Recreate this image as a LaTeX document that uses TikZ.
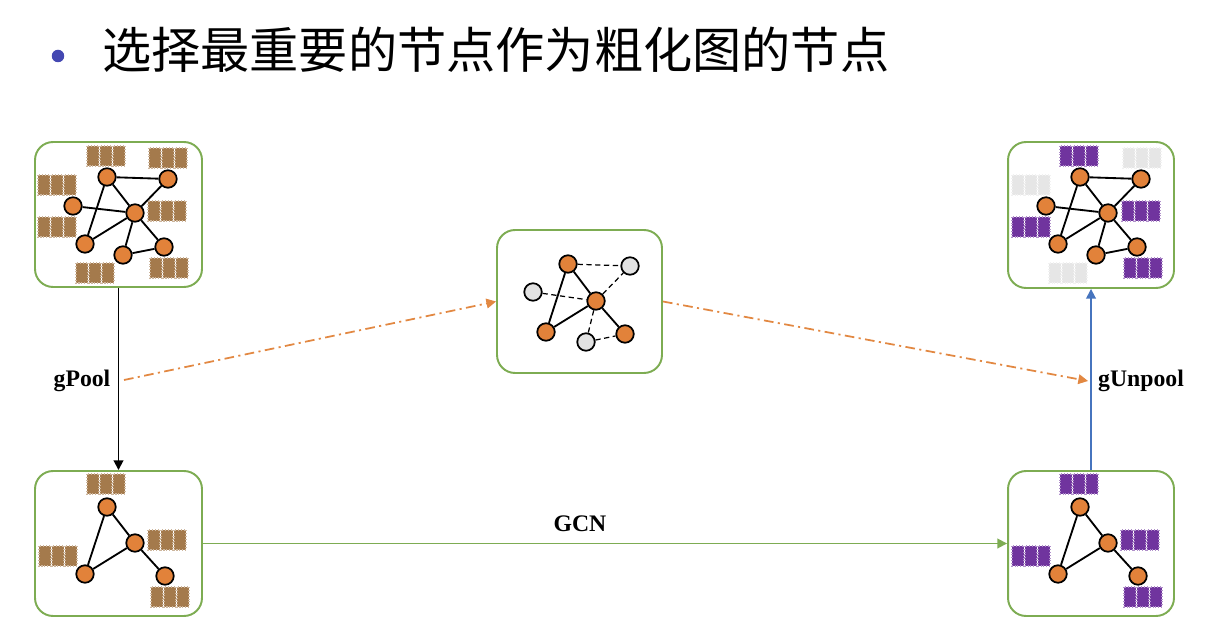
\documentclass[tikz,border=0pt]{standalone}
\usepackage{fontspec}
\setmainfont{Liberation Serif}
\newfontfamily\cjk{Noto Sans CJK SC}
\usetikzlibrary{arrows.meta, positioning}
\definecolor{panelgreen}{RGB}{125,172,82}
\definecolor{vtxorange}{RGB}{226,130,58}
\definecolor{vtxgray}{RGB}{226,226,226}
\definecolor{featbrown}{RGB}{164,122,76}
\definecolor{featpurple}{RGB}{112,52,158}
\definecolor{featgray}{RGB}{230,230,230}
\definecolor{dashorange}{RGB}{226,136,66}
\definecolor{upblue}{RGB}{70,116,190}
\definecolor{bulletblue}{RGB}{68,72,178}

\tikzset{
  panel/.style={draw=panelgreen, line width=1.1pt, rounded corners=0.36cm, fill=white},
  vtx/.style={circle, draw=black, fill=vtxorange, line width=1pt, minimum size=0.35cm, inner sep=0pt},
  gvtx/.style={vtx, fill=vtxgray},
  edge/.style={line width=1.05pt},
  dedge/.style={line width=0.7pt, dash pattern=on 3pt off 2pt},
  lbl/.style={font=\bfseries\fontsize{13.5}{15}\selectfont},
  link/.style={line width=1pt, -{Triangle[width=5.5pt,length=5.5pt]}},
  coarse/.style={link, dashorange, dash pattern=on 5.5pt off 2.5pt on 1.2pt off 2.5pt}
}

% three feature cells, top-left corner at (#1,#2)
\newcommand{\featblock}[3]{%
  \foreach \k in {0,1,2}
    \filldraw[fill=#3, draw=#3!55!white, densely dotted, line width=0.6pt] ({#1+13*\k},#2) rectangle ++(12,20);
}

\begin{document}
\begin{tikzpicture}[x=0.02cm, y=-0.02cm]
  \useasboundingbox (0,0) rectangle (1209,634);

  % title
  \node[circle, fill=bulletblue, minimum size=0.25cm, inner sep=0pt] (bullet) at (58,56) {};
  \node[anchor=west, font=\cjk\fontsize{28}{30}\selectfont] (title) at (96,50) {选择最重要的节点作为粗化图的节点};

  % panels
  \node[panel, minimum width=3.34cm, minimum height=2.9cm] (tl) at (118.5,214.5) {};
  \node[panel, minimum width=3.3cm, minimum height=2.86cm] (mid) at (579.5,301.5) {};
  \node[panel, minimum width=3.32cm, minimum height=2.92cm] (tr) at (1091,215) {};
  \node[panel, minimum width=3.34cm, minimum height=2.9cm] (bl) at (118.5,543.5) {};
  \node[panel, minimum width=3.32cm, minimum height=2.9cm] (br) at (1091,543.5) {};

  % feature blocks
  \featblock{87}{146}{featbrown}
  \featblock{149}{148}{featbrown}
  \featblock{38}{175}{featbrown}
  \featblock{148}{201}{featbrown}
  \featblock{38}{217}{featbrown}
  \featblock{76}{263}{featbrown}
  \featblock{150}{258}{featbrown}

  \featblock{1060}{146}{featpurple}
  \featblock{1123}{148}{featgray}
  \featblock{1012}{175}{featgray}
  \featblock{1122}{201}{featpurple}
  \featblock{1012}{217}{featpurple}
  \featblock{1049}{263}{featgray}
  \featblock{1124}{258}{featpurple}

  \featblock{87}{474}{featbrown}
  \featblock{148}{530}{featbrown}
  \featblock{39}{546}{featbrown}
  \featblock{151}{587}{featbrown}

  \featblock{1060}{474}{featpurple}
  \featblock{1121}{530}{featpurple}
  \featblock{1012}{546}{featpurple}
  \featblock{1124}{587}{featpurple}

  % full graphs
  \foreach \n/\x/\y in {a/107/177, b/168/179, c/73/206, d/135/213, e/85/244, f/123/255, g/164/247} {
    \node[vtx] (tl\n) at (\x,\y) {};
    \node[vtx] (tr\n) at ({\x+973},\y) {};
  }
  \foreach \u/\v in {a/b, a/d, a/e, b/d, c/d, d/e, d/f, d/g, f/g} {
    \draw[edge] (tl\u) -- (tl\v);
    \draw[edge] (tr\u) -- (tr\v);
  }

  % coarsened graphs
  \foreach \n/\x/\y in {a/107/507, d/135/543, e/85/574, g/165/576} {
    \node[vtx] (bl\n) at (\x,\y) {};
    \node[vtx] (br\n) at ({\x+973},\y) {};
  }
  \foreach \u/\v in {a/d, a/e, d/e, d/g} {
    \draw[edge] (bl\u) -- (bl\v);
    \draw[edge] (br\u) -- (br\v);
  }

  % selected nodes
  \node[vtx] (ma) at (568,264) {};
  \node[gvtx] (mb) at (630,266) {};
  \node[gvtx] (mc) at (533,292) {};
  \node[vtx] (md) at (596,301) {};
  \node[vtx] (me) at (546,332) {};
  \node[gvtx] (mf) at (586,342) {};
  \node[vtx] (mg) at (625,334) {};
  \foreach \u/\v in {ma/md, ma/me, me/md, md/mg}
    \draw[edge] (\u) -- (\v);
  \foreach \u/\v in {ma/mb, mc/md, md/mb, md/mf, mf/mg}
    \draw[dedge] (\u) -- (\v);

  % connectors
  \draw[link] (tl.south) -- (bl.north);
  \node[lbl] (pool) at (82,381) {gPool};
  \draw[link, panelgreen] (bl.east) -- (br.west);
  \node[lbl] (gcn) at (580,524) {GCN};
  \draw[link, upblue] (br.north) -- (tr.south);
  \node[lbl] (unpool) at (1141,381) {gUnpool};

  \coordinate (pstart) at (124,380);
  \coordinate (ustop) at (1088,381);
  \draw[coarse] (pstart) -- (mid.west);
  \draw[coarse] (mid.east) -- (ustop);
\end{tikzpicture}
\end{document}
